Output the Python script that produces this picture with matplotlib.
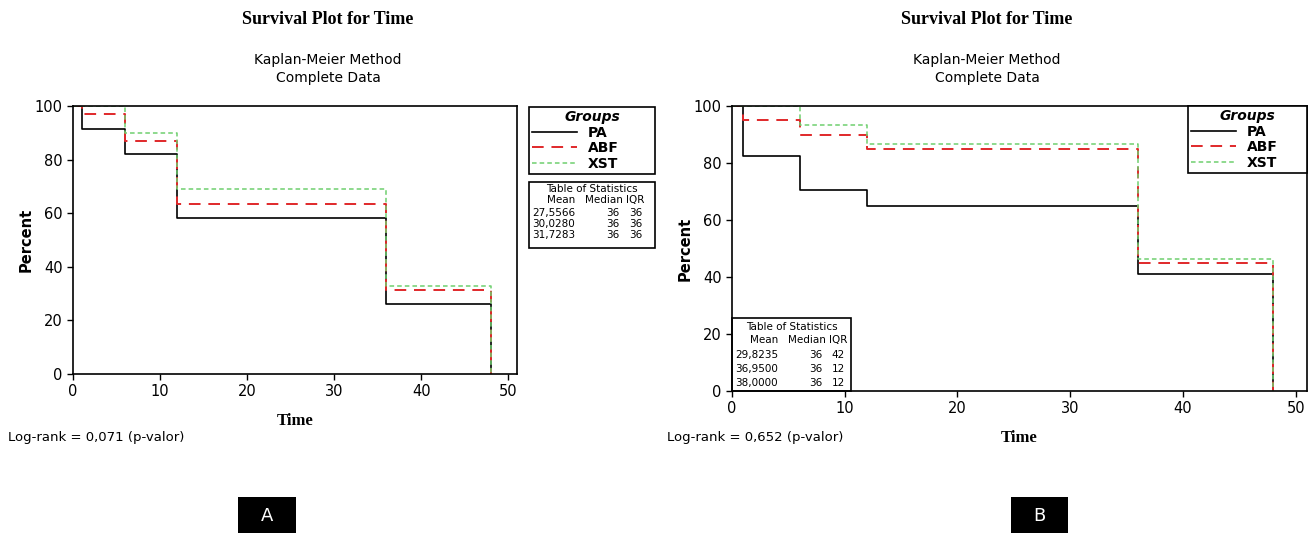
import matplotlib
matplotlib.use("Agg")
import matplotlib.pyplot as plt
from matplotlib.patches import Rectangle

# Kaplan-Meier step data (time points where the curve drops)
times = [0, 1, 6, 12, 36, 48]

# Panel A survival (%)
a_pa = [100, 91.6, 82.0, 58.1, 26.2, 0]
a_abf = [100, 97.2, 86.8, 63.3, 31.4, 0]
a_xst = [100, 100, 89.9, 68.9, 32.8, 0]

# Panel B survival (%)
b_pa = [100, 82.4, 70.7, 64.8, 41.1, 0]
b_abf = [100, 95.0, 90.0, 85.0, 45.0, 0]
b_xst = [100, 100, 93.5, 86.6, 46.4, 0]

groups = ["PA", "ABF", "XST"]
x_ticks = [0, 10, 20, 30, 40, 50]
y_ticks = [0, 20, 40, 60, 80, 100]

# Table of statistics: mean, median, IQR per group
a_mean = ["27,5566", "30,0280", "31,7283"]
a_median = [36, 36, 36]
a_iqr = [36, 36, 36]
b_mean = ["29,8235", "36,9500", "38,0000"]
b_median = [36, 36, 36]
b_iqr = [42, 12, 12]

a_logrank = "Log-rank = 0,071 (p-valor)"
b_logrank = "Log-rank = 0,652 (p-valor)"

styles = [
    dict(color="black", lw=1.2, linestyle="-"),
    dict(color="#e0282a", lw=1.4, linestyle=(0, (6, 4))),
    dict(color="#6fd06f", lw=1.1, linestyle=(0, (3, 2))),
]

W, H = 1314, 533
fig = plt.figure(figsize=(W / 100, H / 100), dpi=100)


def fx(px):
    return px / W


def fy(py):
    return 1 - py / H


def make_axes(left, right, top, bottom):
    return fig.add_axes([fx(left), fy(bottom), fx(right - left), (bottom - top) / H])


def draw_km(ax, curves):
    lines = []
    for vals, st in zip(curves, styles):
        (ln,) = ax.step(times, vals, where="post", **st)
        lines.append(ln)
    ax.set_xlim(0, 51)
    ax.set_ylim(0, 100)
    ax.set_xticks(x_ticks)
    ax.set_yticks(y_ticks)
    ax.tick_params(labelsize=10.5, length=4, width=1, direction="out")
    for s in ax.spines.values():
        s.set_linewidth(1.2)
    ax.set_ylabel("Percent", fontsize=10.5, fontweight="bold", family="DejaVu Sans", labelpad=1)
    ax.set_xlabel("Time", fontsize=12, fontweight="bold", family="Liberation Serif", labelpad=10)
    return lines


def stats_table(x0, y0, x1, y1, means, medians, iqrs, rows_y, title_y, head_y):
    fig.patches.append(Rectangle((fx(x0), fy(y1)), fx(x1 - x0), (y1 - y0) / H,
                                 transform=fig.transFigure, fill=False,
                                 edgecolor="black", lw=1.2))
    fs = 7.5
    fig.text(fx((x0 + x1) / 2), fy(y0 + title_y), "Table of Statistics", ha="center", va="center", fontsize=fs)
    fig.text(fx(x0 + 46), fy(y0 + head_y), "Mean", ha="right", va="center", fontsize=fs)
    fig.text(fx(x0 + 94), fy(y0 + head_y), "Median", ha="right", va="center", fontsize=fs)
    fig.text(fx(x0 + 115), fy(y0 + head_y), "IQR", ha="right", va="center", fontsize=fs)
    for i in range(3):
        yy = y0 + rows_y[i]
        fig.text(fx(x0 + 3), fy(yy), means[i], ha="left", va="center", fontsize=fs)
        fig.text(fx(x0 + 90), fy(yy), str(medians[i]), ha="right", va="center", fontsize=fs)
        fig.text(fx(x0 + 113), fy(yy), str(iqrs[i]), ha="right", va="center", fontsize=fs)


def titles(cx):
    fig.text(fx(cx), fy(20), "Survival Plot for Time", ha="center", va="center",
             fontsize=13, fontweight="bold", family="Liberation Serif")
    fig.text(fx(cx), fy(60), "Kaplan-Meier Method", ha="center", va="center", fontsize=10)
    fig.text(fx(cx), fy(78), "Complete Data", ha="center", va="center", fontsize=10)


def panel_label(x0, x1, txt):
    fig.patches.append(Rectangle((fx(x0), 0), fx(x1 - x0), 36 / H,
                                 transform=fig.transFigure, facecolor="black", edgecolor="none"))
    fig.text(fx((x0 + x1) / 2), fy(516), txt, ha="center", va="center", fontsize=13, color="white")


def groups_legend(ax, lines, x0, y0, x1, y1):
    leg = ax.legend(lines, groups, loc="upper left",
                    bbox_to_anchor=(fx(x0), fy(y1), fx(x1 - x0), (y1 - y0) / H),
                    bbox_transform=fig.transFigure, mode="expand",
                    title="Groups", fancybox=False, framealpha=1, edgecolor="black",
                    borderpad=0.25, labelspacing=0.1, handlelength=3.2,
                    borderaxespad=0, prop={"weight": "bold", "size": 10})
    leg.get_title().set_fontstyle("italic")
    leg.get_title().set_fontweight("bold")
    leg.get_title().set_fontsize(10)
    leg.get_frame().set_linewidth(1.2)
    for t in leg.get_texts():
        t.set_ha("center")


# Panel A
ax_a = make_axes(73, 517, 106, 374)
lines_a = draw_km(ax_a, [a_pa, a_abf, a_xst])
groups_legend(ax_a, lines_a, 529, 107, 655, 179)
stats_table(529, 182, 655, 248, a_mean, a_median, a_iqr, [31, 42, 53], 7, 18)
titles(328)
fig.text(fx(8), fy(438), a_logrank, ha="left", va="center", fontsize=9.5)
panel_label(238, 296, "A")

# Panel B
ax_b = make_axes(732, 1307, 106, 391)
lines_b = draw_km(ax_b, [b_pa, b_abf, b_xst])
groups_legend(ax_b, lines_b, 1188, 106, 1307, 176)
stats_table(732, 318, 851, 391, b_mean, b_median, b_iqr, [37, 51, 65], 9, 22)
titles(987)
fig.text(fx(667), fy(437), b_logrank, ha="left", va="center", fontsize=9.5)
panel_label(1011, 1068, "B")

fig.savefig("out.png", dpi=100)
